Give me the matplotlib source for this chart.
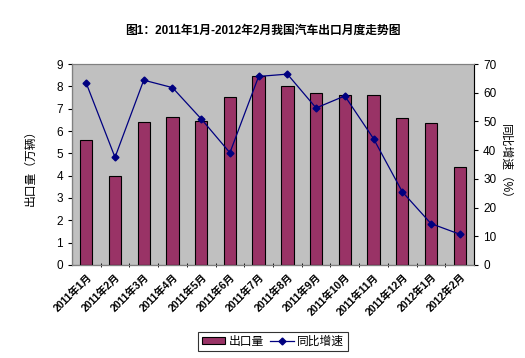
import numpy as np
import matplotlib
matplotlib.use("Agg")
import matplotlib.pyplot as plt
from matplotlib.ticker import FixedLocator

plt.rcParams['font.family'] = ['Liberation Sans', 'Noto Sans CJK SC', 'DejaVu Sans']

months = ["2011年1月", "2011年2月", "2011年3月", "2011年4月", "2011年5月",
          "2011年6月", "2011年7月", "2011年8月", "2011年9月", "2011年10月",
          "2011年11月", "2011年12月", "2012年1月", "2012年2月"]
exports = [5.6, 4.0, 6.39, 6.61, 6.46, 7.52, 8.48, 8.03, 7.72, 7.61, 7.61, 6.6, 6.34, 4.4]
growth = [63.3, 37.5, 64.4, 61.8, 50.9, 39.1, 65.7, 66.5, 54.7, 58.9, 44.0, 25.5, 14.4, 10.7]

fig = plt.figure(figsize=(5.25, 3.58), dpi=100)
ax = fig.add_axes([0.137, 0.260, 0.766, 0.561])
ax.set_facecolor('#C0C0C0')

x = np.arange(len(months))
bars = ax.bar(x, exports, width=0.43, color='#993366', edgecolor='black',
              linewidth=0.8, label='出口量', zorder=2)
ax.set_xlim(-0.5, len(months) - 0.5)
ax.set_ylim(0, 9)
ax.set_yticks(range(0, 10))
ax.set_xticks(x)
ax.set_xticklabels(months, rotation=45, ha='right', rotation_mode='anchor',
                   fontsize=7.5, fontweight='bold')
ax.tick_params(axis='x', length=0, pad=5)
ax.xaxis.set_minor_locator(FixedLocator(np.arange(0.5, len(months) - 0.5, 1)))
ax.tick_params(axis='x', which='minor', length=3, direction='inout')
ax.tick_params(axis='y', labelsize=8.5, length=3, direction='out')
ax.set_ylabel('出口量（万辆）', fontsize=8.5, labelpad=14)

ax2 = ax.twinx()
line, = ax2.plot(x, growth, color='#000080', marker='D', markersize=3.5,
                 linewidth=0.9, label='同比增速', zorder=3)
ax2.set_ylim(0, 70)
ax2.set_yticks(range(0, 71, 10))
ax2.tick_params(axis='y', labelsize=8.5, length=3, direction='out')
ax2.set_ylabel('同比增速（%）', fontsize=8.5, rotation=-90, labelpad=11)

for a in (ax, ax2):
    for s in a.spines.values():
        s.set_color('#808080')
ax.spines['left'].set_color('black')
ax2.spines['right'].set_color('black')
ax.spines['bottom'].set_color('black')

fig.text(0.5, 0.913, '图1：2011年1月-2012年2月我国汽车出口月度走势图',
         ha='center', va='center', fontsize=8.5, fontweight='bold')

leg = fig.legend([bars, line], ['出口量', '同比增速'], loc='center',
                 bbox_to_anchor=(0.52, 0.045), ncol=2, fontsize=8.5,
                 frameon=True, fancybox=False, edgecolor='black',
                 handlelength=2.0, handleheight=0.5, columnspacing=0.5,
                 handletextpad=0.3, borderpad=0.3)
leg.get_frame().set_linewidth(0.8)

fig.savefig('out.png', dpi=100)
